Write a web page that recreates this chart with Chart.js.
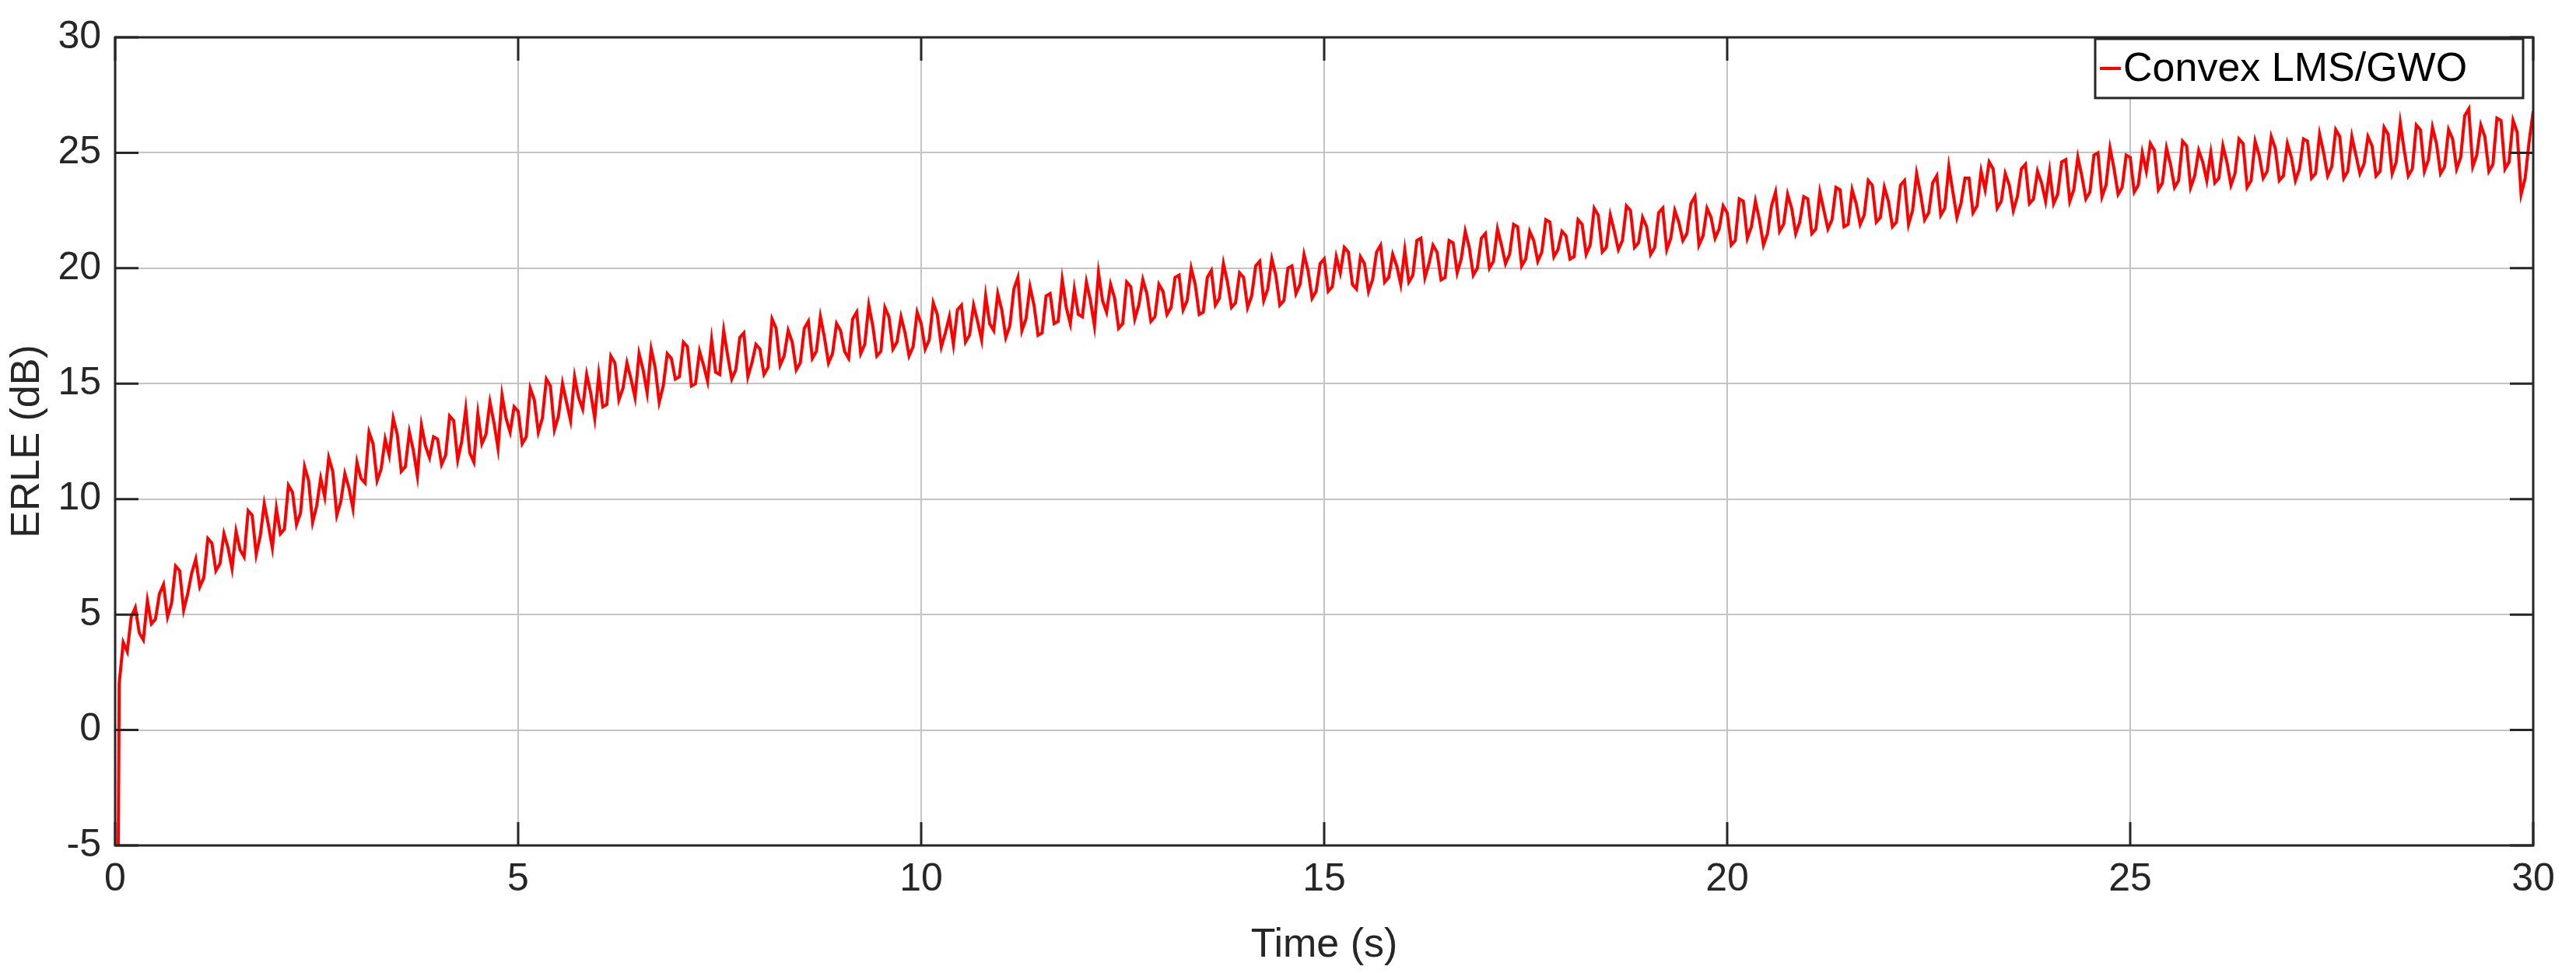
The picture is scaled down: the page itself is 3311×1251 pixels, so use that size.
<!DOCTYPE html>
<html>
<head>
<meta charset="utf-8">
<script src="https://cdn.jsdelivr.net/npm/chart.js@4"></script>
<style>
  html, body { margin: 0; padding: 0; background: #fff; }
  #wrap { width: 3311px; height: 1251px; }
</style>
</head>
<body>
<div id="wrap"><canvas id="erle-chart"></canvas></div>
<script>
const SERIES_LABEL = "Convex LMS/GWO";
const X_TITLE = "Time (s)";
const Y_TITLE = "ERLE (dB)";
const X_TICKS = [0, 5, 10, 15, 20, 25, 30];
const Y_TICKS = [-5, 0, 5, 10, 15, 20, 25, 30];
const dt = 0.1; // sample spacing of the ERLE curve, seconds

// ERLE values at t = 0, 0.1, 0.2 ... (10 per second)
const erle = [
    -30, 3.8, 4.9, 4.2, 5.6, 4.8, 6.3, 5.5, 6.9, 5.9,
    7.4, 6.6, 8.1, 7.2, 7.9, 8.6, 7.5, 9.3, 8.4, 8.9,
    9.6, 8.7, 10.3, 9.4, 10.8, 9.7, 10.1, 11.2, 9.9, 10.5,
    11.6, 10.7, 12.4, 11.3, 11.9, 12.8, 11.4, 12.1, 13.2, 11.8,
    12.6, 11.9, 13.4, 12.5, 12.0, 13.7, 12.8, 13.3, 14.5, 12.9,
    13.8, 12.7, 14.3, 13.5, 14.9, 13.6, 14.2, 15.3, 13.9, 14.6,
    15.4, 14.1, 15.9, 14.8, 15.2, 16.3, 14.6, 15.7, 14.9, 16.1,
    15.3, 16.6, 15.0, 15.8, 16.9, 15.4, 16.2, 15.6, 17.2, 15.9,
    16.5, 15.7, 17.4, 16.2, 16.8, 15.9, 17.7, 16.4, 17.0, 16.3,
    17.3, 16.1, 18.1, 16.7, 17.5, 16.4, 17.9, 16.8, 17.2, 16.6,
    17.6, 16.9, 18.0, 17.2, 16.7, 18.4, 17.1, 17.7, 18.8, 17.3,
    18.2, 17.5, 19.6, 17.8, 18.4, 17.2, 18.9, 17.7, 18.3, 19.1,
    17.9, 18.6, 19.8, 18.1, 18.7, 17.6, 19.2, 18.4, 18.9, 17.9,
    19.0, 18.3, 19.7, 18.6, 19.3, 18.1, 19.9, 18.7, 19.4, 18.5,
    19.6, 18.8, 20.3, 19.1, 19.7, 18.6, 20.1, 19.3, 19.9, 19.0,
    20.4, 19.2, 19.8, 20.7, 19.1, 20.2, 19.5, 21.0, 19.6, 20.1,
    20.8, 19.7, 21.3, 20.2, 20.7, 19.6, 21.1, 20.4, 20.9, 20.0,
    21.5, 20.3, 21.0, 20.6, 21.8, 20.4, 21.2, 20.7, 22.0, 20.8,
    21.4, 20.5, 21.9, 21.0, 22.3, 20.9, 21.6, 21.2, 22.5, 21.1,
    21.8, 20.9, 22.6, 21.3, 22.0, 21.5, 23.1, 21.4, 22.2, 21.7,
    22.4, 21.2, 22.9, 21.8, 22.1, 21.5, 23.3, 21.9, 22.6, 22.0,
    23.0, 21.7, 22.5, 22.1, 23.4, 21.9, 22.8, 22.3, 23.6, 22.2,
    22.9, 22.0, 23.8, 22.5, 23.2, 22.4, 24.0, 22.6, 23.3, 22.8,
    23.9, 22.7, 23.4, 24.3, 22.9, 23.6, 23.1, 24.5, 23.0, 23.7,
    24.2, 23.2, 24.7, 23.4, 24.0, 23.3, 25.0, 23.6, 24.3, 23.5,
    24.8, 23.6, 24.2, 25.1, 23.7, 24.5, 23.8, 25.3, 24.0, 24.6,
    25.0, 23.9, 24.6, 24.1, 25.4, 23.8, 24.9, 24.2, 25.2, 24.0,
    24.8, 24.3, 25.5, 24.1, 25.0, 24.4, 25.7, 24.2, 24.9, 24.5,
    25.3, 24.2, 25.8, 24.6, 25.1, 24.3, 26.0, 24.7, 25.4, 24.4,
    25.6, 24.8, 26.9, 24.9, 25.7, 24.5, 26.4, 24.6, 25.9, 23.9,
    26.8,
];

// ERLE values in between, at t = 0.05, 0.15, 0.25 ...
const erleMid = [
    2.0, 3.4, 5.3, 3.9, 4.6, 5.9, 4.9, 7.1, 5.2, 6.8,
    6.2, 8.3, 6.9, 8.5, 7.0, 7.8, 9.5, 7.6, 9.8, 7.9,
    8.5, 10.6, 8.9, 11.4, 9.0, 10.9, 11.8, 9.3, 11.1, 9.6,
    10.9, 12.9, 10.8, 12.6, 13.5, 11.2, 12.9, 11.0, 12.3, 12.7,
    11.5, 13.6, 11.7, 13.9, 11.6, 12.4, 14.2, 12.2, 13.5, 14.0,
    12.4, 14.8, 12.9, 15.2, 13.0, 15.0, 13.4, 14.4, 15.4, 13.5,
    14.0, 16.2, 14.3, 15.9, 14.4, 15.6, 16.5, 14.2, 16.3, 15.2,
    16.8, 14.9, 16.4, 15.1, 15.5, 17.3, 15.2, 17.0, 15.3, 16.7,
    15.4, 17.8, 15.8, 17.3, 15.6, 17.4, 16.1, 17.9, 15.9, 17.6,
    16.4, 17.8, 16.3, 18.4, 16.2, 18.3, 16.5, 17.9, 16.2, 18.1,
    16.5, 18.5, 16.6, 17.9, 18.2, 16.8, 18.4, 16.9, 17.6, 18.9,
    17.0, 19.1, 17.3, 19.2, 17.1, 18.8, 17.6, 19.5, 17.6, 18.0,
    19.4, 17.5, 18.6, 19.3, 17.4, 19.4, 17.8, 19.5, 17.7, 19.3,
    18.0, 19.6, 18.2, 20.0, 18.0, 19.6, 18.4, 20.2, 18.3, 19.8,
    18.3, 20.1, 18.6, 20.4, 18.4, 20.0, 18.9, 20.6, 18.7, 20.2,
    19.0, 20.5, 20.9, 19.3, 20.5, 19.0, 20.7, 19.4, 20.6, 19.3,
    19.4, 21.2, 19.6, 21.0, 19.5, 21.2, 19.8, 21.6, 19.7, 21.3,
    20.0, 21.7, 20.2, 21.9, 20.1, 21.6, 20.3, 22.1, 20.5, 21.6,
    20.4, 22.1, 20.6, 22.6, 20.7, 22.3, 20.8, 22.7, 20.9, 22.2,
    20.6, 22.4, 20.8, 22.5, 21.2, 22.8, 21.0, 22.6, 21.3, 22.7,
    21.0, 23.0, 21.3, 22.9, 21.0, 22.7, 21.6, 23.2, 21.5, 23.1,
    21.5, 23.3, 21.7, 23.5, 21.8, 23.4, 21.9, 23.8, 22.0, 23.5,
    21.8, 23.6, 21.9, 24.1, 22.1, 23.7, 22.3, 24.4, 22.2, 23.9,
    22.4, 24.2, 24.6, 22.6, 24.1, 22.5, 24.3, 22.8, 24.2, 22.9,
    22.8, 24.6, 22.9, 24.8, 23.0, 24.9, 23.1, 25.2, 23.2, 24.9,
    23.3, 25.0, 25.4, 23.4, 25.2, 23.5, 25.5, 23.5, 25.1, 23.8,
    23.7, 25.3, 23.6, 25.6, 23.5, 25.5, 23.9, 25.7, 23.8, 25.4,
    23.8, 25.6, 23.9, 25.8, 24.0, 26.0, 23.9, 25.7, 24.1, 25.7,
    24.0, 26.1, 24.1, 26.3, 24.0, 26.2, 24.2, 26.1, 24.1, 26.0,
    24.3, 26.6, 24.4, 26.2, 24.2, 26.5, 24.3, 26.4, 23.2, 25.5,
];

const points = [];
erle.forEach((v, i) => {
    points.push({ x: +(i * dt).toFixed(2), y: v });
    if (i < erleMid.length) points.push({ x: +(i * dt + dt / 2).toFixed(2), y: erleMid[i] });
});

const FONT = "'Liberation Sans', Arial, sans-serif";
const AXIS_COLOR = "#262626";

// MATLAB-style box, inner ticks and legend
const boxPlugin = {
    id: "box",
    afterDraw(chart) {
        const { ctx, chartArea: a, scales } = chart;
        ctx.save();
        ctx.strokeStyle = AXIS_COLOR;
        ctx.lineWidth = 3;
        ctx.strokeRect(a.left, a.top, a.right - a.left, a.bottom - a.top);
        ctx.beginPath();
        X_TICKS.forEach((t) => {
            const px = scales.x.getPixelForValue(t);
            ctx.moveTo(px, a.bottom); ctx.lineTo(px, a.bottom - 30);
            ctx.moveTo(px, a.top); ctx.lineTo(px, a.top + 30);
        });
        Y_TICKS.forEach((t) => {
            const py = scales.y.getPixelForValue(t);
            ctx.moveTo(a.left, py); ctx.lineTo(a.left + 30, py);
            ctx.moveTo(a.right, py); ctx.lineTo(a.right - 30, py);
        });
        ctx.stroke();

        // legend
        const lx = 2693, ly = 50, lw = 550, lh = 76;
        ctx.fillStyle = "#fff";
        ctx.fillRect(lx, ly, lw, lh);
        ctx.lineWidth = 3;
        ctx.strokeRect(lx, ly, lw, lh);
        ctx.strokeStyle = "#ff0000";
        ctx.lineWidth = 4;
        ctx.beginPath();
        ctx.moveTo(lx + 6, ly + lh / 2);
        ctx.lineTo(lx + 33, ly + lh / 2);
        ctx.stroke();
        ctx.fillStyle = "#000";
        ctx.font = "52px " + FONT;
        ctx.textBaseline = "middle";
        ctx.fillText(SERIES_LABEL, lx + 36, ly + lh / 2 + 2);
        ctx.restore();
    },
};

new Chart(document.getElementById("erle-chart"), {
    type: "line",
    data: {
        datasets: [{
            label: SERIES_LABEL,
            data: points,
            borderColor: "#ff0000",
            borderWidth: 4,
            pointRadius: 0,
            tension: 0,
            fill: false,
        }],
    },
    options: {
        responsive: true,
        maintainAspectRatio: false,
        animation: false,
        devicePixelRatio: 1,
        layout: { padding: { top: 35, right: 55, left: 0, bottom: 0 } },
        plugins: { legend: { display: false }, tooltip: { enabled: false } },
        scales: {
            x: {
                type: "linear",
                min: 0,
                max: 30,
                afterBuildTicks: (s) => { s.ticks = X_TICKS.map((v) => ({ value: v })); },
                afterFit: (s) => { s.height = 164; },
                grid: { color: "#c4c4c4", lineWidth: 2, drawTicks: false },
                border: { display: false },
                ticks: { color: AXIS_COLOR, font: { family: FONT, size: 50 }, padding: 14, maxRotation: 0 },
                title: { display: true, text: X_TITLE, color: AXIS_COLOR, font: { family: FONT, size: 52 }, padding: { top: 4 } },
            },
            y: {
                min: -5,
                max: 30,
                afterBuildTicks: (s) => { s.ticks = Y_TICKS.map((v) => ({ value: v })); },
                afterFit: (s) => { s.width = 148; },
                grid: { color: "#c4c4c4", lineWidth: 2, drawTicks: false },
                border: { display: false },
                ticks: { color: AXIS_COLOR, font: { family: FONT, size: 50 }, padding: 18 },
                title: { display: true, text: Y_TITLE, color: AXIS_COLOR, font: { family: FONT, size: 52 }, padding: { bottom: 4 } },
            },
        },
    },
    plugins: [boxPlugin],
});
</script>
</body>
</html>
